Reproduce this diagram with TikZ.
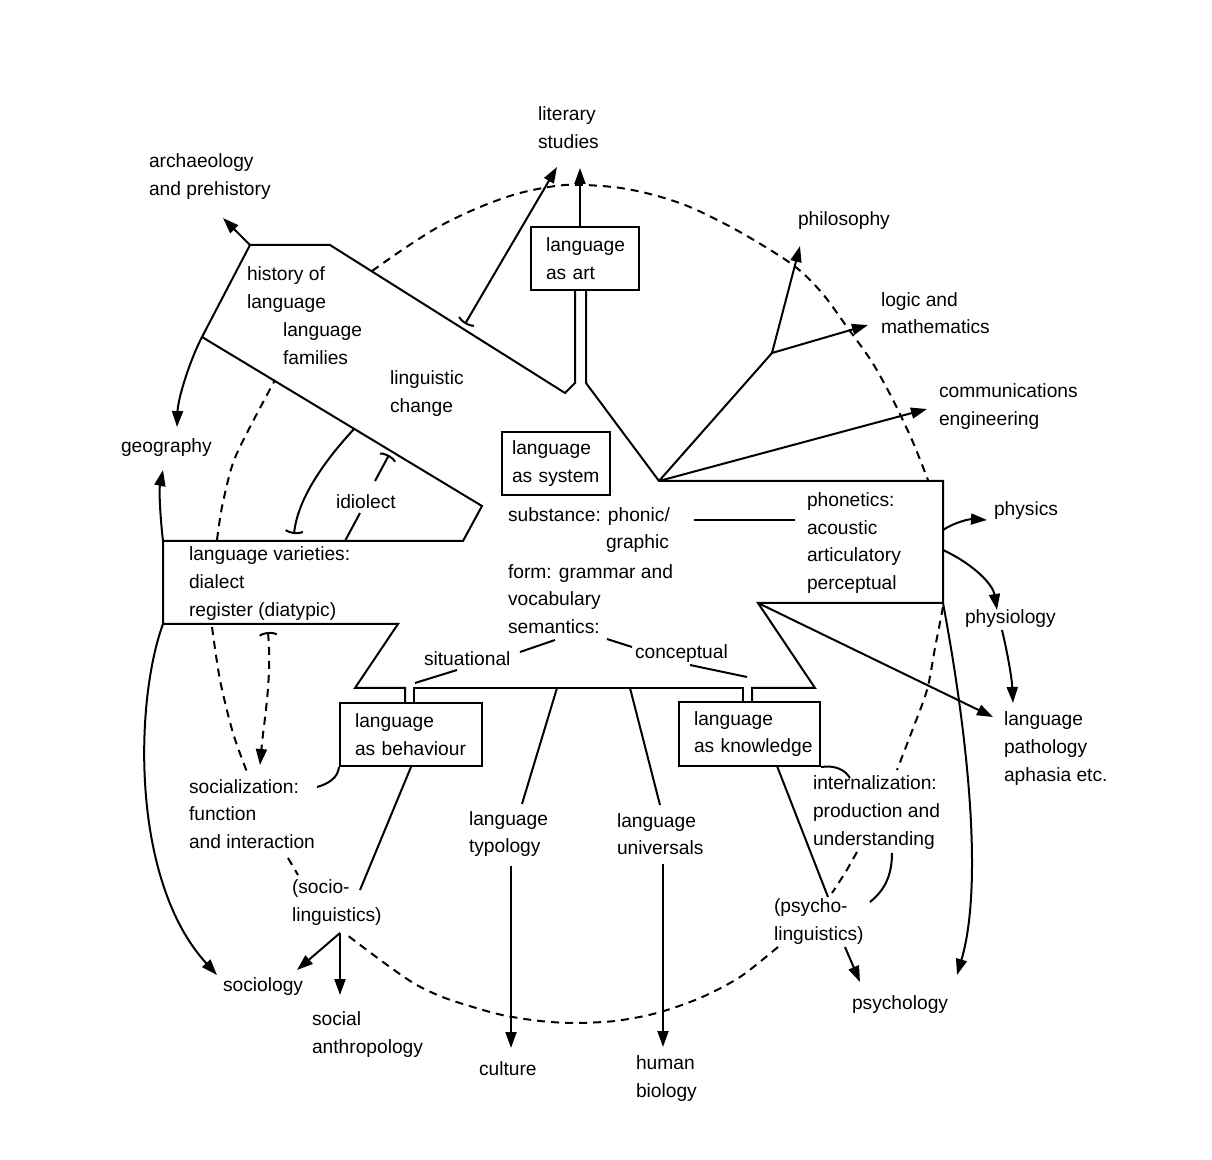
\documentclass[tikz,border=0pt]{standalone}
\usepackage{fontspec}
\setmainfont{Liberation Sans}
\usetikzlibrary{arrows.meta}
\begin{document}
\begin{tikzpicture}[x=0.5pt,y=-0.5pt,line width=1pt,
  lbl/.style={anchor=west,align=left,inner sep=0pt,font=\fontsize{9.6}{13.8}\selectfont},
  box/.style={draw,rectangle,align=left,inner xsep=7.5pt,inner ysep=0pt,minimum height=31.5pt,font=\fontsize{9.6}{13.8}\selectfont},
  arr/.style={-{Triangle[length=8pt,width=5.5pt]}},
  tee/.style={-{Parenthesis[width=11pt,length=2.5pt]}},
  loopline/.style={dash pattern=on 4pt off 3pt}]
\useasboundingbox (0,0) rectangle (1212,1160);

\node[lbl] (literary) at (537,127.5) {literary\\studies};
\node[lbl] (archaeology) at (148,176.5) {archaeology\\and prehistory};
\node[lbl] (philosophy) at (797,221) {philosophy};
\node[lbl] (logic) at (880,313) {logic and\\mathematics};
\node[lbl] (engineering) at (938,406.5) {communications\\engineering};
\node[lbl] (geography) at (120,448) {geography};
\node[lbl] (physics) at (993,511) {physics};
\node[lbl] (physiology) at (964,619) {physiology};
\node[lbl] (pathology) at (1003,748.5) {language\\pathology\\aphasia etc.};
\node[lbl] (psychology) at (851,1005) {psychology};
\node[lbl] (biology) at (635,1078.5) {human\\biology};
\node[lbl] (culture) at (478,1069) {culture};
\node[lbl] (anthropology) at (311,1034.5) {social\\anthropology};
\node[lbl] (sociology) at (222,987) {sociology};
\node[lbl] (socioling) at (291,902.5) {(socio-\\linguistics)};
\node[lbl] (socialization) at (188,814) {socialization:\\function\\and interaction};
\node[lbl] (typology) at (468,834) {language\\typology};
\node[lbl] (universals) at (616,834) {language\\universals};
\node[lbl] (internal) at (812,812.5) {internalization:\\production and\\understanding};
\node[lbl] (psycholing) at (773,921.5) {(psycho-\\linguistics)};
\node[lbl] (varieties) at (188,583.5) {language varieties:\\dialect\\register (diatypic)};
\node[lbl] (history) at (246,289.5) {history of\\language};
\node[lbl] (families) at (282,343.5) {language\\families};
\node[lbl] (change) at (389,393.5) {linguistic\\change};
\node[lbl] (idiolect) at (335,502) {idiolect};
\node[lbl] (substance) at (507,517) {substance: phonic/};
\node[lbl] (graphic) at (605,544) {graphic};
\node[lbl] (form) at (507,599) {form: grammar and\\vocabulary\\semantics:};
\node[lbl] (situational) at (423,659) {situational};
\node[lbl] (conceptual) at (634,654) {conceptual};
\node[lbl] (phonetics) at (806,543) {phonetics:\\acoustic\\articulatory\\perceptual};

\node[box,text width=39pt] (art) at (585,258.5) {language\\as art};
\node[box,text width=44pt,inner xsep=5pt] (system) at (556,463.5) {language\\as system};
\node[box,text width=56pt] (behaviour) at (411,734.5) {language\\as behaviour};
\node[box,text width=55.5pt,minimum height=32pt] (knowledge) at (749.5,734) {language\\\mbox{as knowledge}};

\coordinate (a1) at (575,383);
\coordinate (v1) at (565,393);
\coordinate (h1) at (330,245);
\coordinate (h0) at (250,245);
\coordinate (w1) at (202,337);
\coordinate (w2) at (482,506);
\coordinate (w3) at (463,541);
\coordinate (b1) at (163,541);
\coordinate (b2) at (163,624);
\coordinate (b3) at (398,624);
\coordinate (b4) at (355,688);
\coordinate (s1) at (405,688);
\coordinate (s2) at (414,688);
\coordinate (s3) at (743,688);
\coordinate (s4) at (752,688);
\coordinate (k1) at (815,688);
\coordinate (p1) at (758,603);
\coordinate (p2) at (943,603);
\coordinate (p3) at (943,481);
\coordinate (hub) at (659,481);
\coordinate (hub2) at (772,353);
\coordinate (a2) at (586,383);

\draw (a1 |- art.south) -- (a1) -- (v1) -- (h1) -- (h0) -- (w1) -- (w2) -- (w3) -- (b1) -- (b2) -- (b3) -- (b4) -- (s1) -- (s1 |- behaviour.north);
\draw (s2 |- behaviour.north) -- (s2) -- (s3) -- (s3 |- knowledge.north);
\draw (s4 |- knowledge.north) -- (s4) -- (k1) -- (p1) -- (p2) -- (p3) -- (hub) -- (a2) -- (a2 |- art.south);

\coordinate (arch-tip) at (223,218);
\coordinate (geo-tip1) at (177,427);
\coordinate (geo-tip2) at (163,470);
\coordinate (soc-tip) at (217,975);
\coordinate (lit-tip1) at (580,168);
\coordinate (lit-tip2) at (557,167);
\coordinate (lit-foot) at (465,324);
\coordinate (philo-tip) at (800,246);
\coordinate (logic-tip) at (868,325);
\coordinate (comm-tip) at (927,409);
\coordinate (phys-tip) at (987,520);
\coordinate (path-tip) at (993,717);
\coordinate (psy-tip) at (957,975);
\coordinate (cult-tip) at (511,1048);
\coordinate (bio-tip) at (663,1047);

\draw[arr] (h0) -- (arch-tip);
\draw[arr] (w1) .. controls (190,360) and (178,398) .. (geo-tip1);
\draw[arr] (b1) .. controls (160,515) and (159,490) .. (geo-tip2);
\draw[arr] (b2) .. controls (135,700) and (130,880) .. (soc-tip);
\draw[arr] (lit-tip1 |- art.north) -- (lit-tip1);
\draw[{Parenthesis[width=11pt,length=2.5pt]}-{Triangle[length=8pt,width=5.5pt]}] (lit-foot) -- (lit-tip2);
\draw (hub) -- (hub2);
\draw[arr] (hub2) -- (philo-tip);
\draw[arr] (hub2) -- (logic-tip);
\draw[arr] (hub) -- (comm-tip);
\draw[arr] (943,530) .. controls (955,522) and (970,519) .. (phys-tip);
\draw[arr] (943,550) .. controls (975,565) and (993,585) .. (997,610);
\draw[arr] (1002,630) .. controls (1008,655) and (1012,680) .. (1013,703);
\draw[arr] (p1) -- (path-tip);
\draw[arr] (p2) .. controls (965,720) and (985,880) .. (psy-tip);
\draw[arr] (845,947) -- (860,982);
\draw[arr] (340,933) -- (297,970);
\draw[arr] (340,933) -- (340,995);
\draw[arr] ([yshift=-4pt]cult-tip |- typology.south) -- (cult-tip);
\draw[arr] ([yshift=-4pt]bio-tip |- universals.south) -- (bio-tip);

\draw[tee] (354,429) .. controls (330,455) and (298,495) .. (294,534);
\draw[tee] (375,481) -- (389,455);
\draw (360,513) -- (345,541);

\draw (behaviour.south) -- (360,890);
\draw (behaviour.south west) .. controls (338,778) and (328,784) .. (317,787);
\draw (557,688) -- (522,804);
\draw (630,688) -- (660,805);
\draw (777,766) -- (828,897);
\draw (knowledge.south east) .. controls (836,765) and (845,770) .. (850,778);
\draw (892,853) .. controls (892,875) and (885,890) .. (870,902);
\draw (520,652) -- (555,640);
\draw (457,670) -- (415,683);
\draw (607,639) -- (632,647);
\draw (690,665) -- (747,677);
\draw (694,520) -- (795,520);

\draw[loopline,{Parenthesis[width=11pt,length=2.5pt]}-{Triangle[length=8pt,width=5.5pt]}] (268,632) .. controls (272,680) and (264,720) .. (260,765);

\draw[loopline] plot[smooth] coordinates {(372,271) (405,248) (440,226) (480,207) (520,193) (565,185) (613,187) (650,194) (690,207) (740,232) (793,265) (822,293) (847,327) (872,362) (893,400) (912,440) (928,480)};
\draw[loopline] plot[smooth] coordinates {(943,607) (935,648) (927,690) (912,731) (897,770)};
\draw[loopline] plot[smooth] coordinates {(857,852) (845,873) (832,893)};
\draw[loopline] plot[smooth] coordinates {(778,947) (740,977) (700,998) (657,1013) (615,1021) (573,1023) (540,1021) (507,1016) (483,1010) (445,998) (415,984) (383,962) (347,935)};
\draw[loopline] (288,858) -- (298,875);
\draw[loopline] plot[smooth] coordinates {(212,627) (220,680) (233,733) (247,772)};
\draw[loopline] plot[smooth] coordinates {(217,540) (222,507) (233,463) (250,427) (275,380)};
\end{tikzpicture}
\end{document}
